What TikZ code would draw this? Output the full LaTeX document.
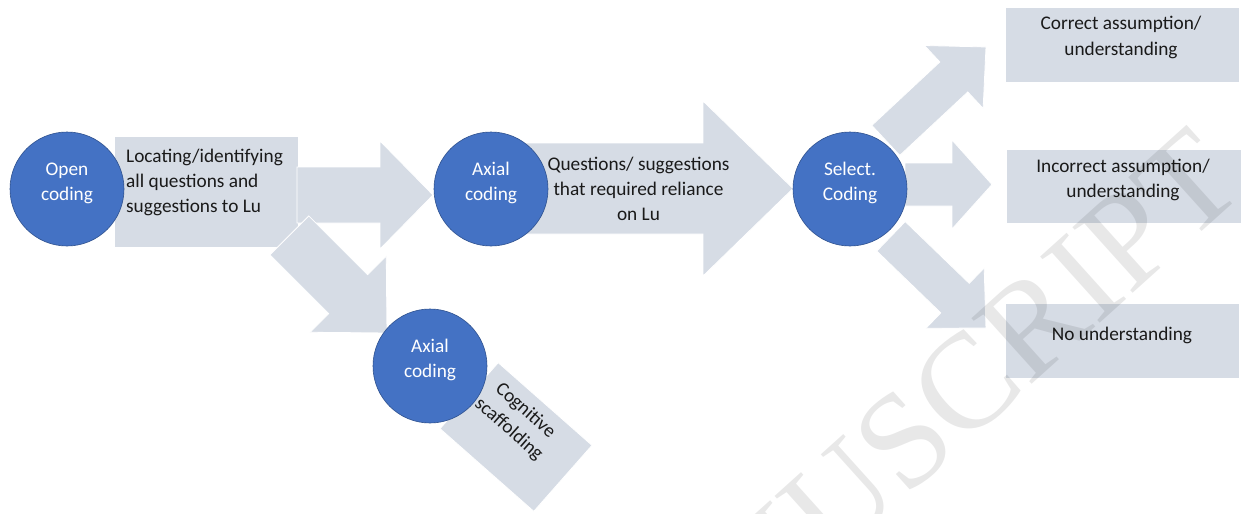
\documentclass[tikz,border=0pt]{standalone}
\usepackage{fontspec}
\setmainfont{Carlito}
\newfontfamily\wmfont{Liberation Serif}
\definecolor{boxfill}{HTML}{D6DCE5}
\definecolor{circfill}{HTML}{4472C4}
\definecolor{circline}{HTML}{2F528F}
\definecolor{txt}{HTML}{1A1A1A}
\newcommand\mytextfont{\fontsize{19.3}{25}\selectfont}
\tikzset{
  shapefill/.style={fill=boxfill, draw=white, line width=0.8pt},
  circ/.style={circle, fill=circfill, draw=circline, line width=0.6pt,
    minimum size=114pt, inner sep=0pt},
  circtext/.style={text=white, font=\mytextfont, align=center, inner sep=0pt, anchor=base},
  boxtext/.style={text=txt, font=\mytextfont, inner sep=0pt, anchor=base},
  rbox/.style={rectangle, shapefill, inner sep=0pt},
}
% tail, rotation, length, shaft half width, head half width, head length
\newcommand\blockarrow[6]{%
  \begin{scope}[shift={#1}, rotate=#2]
    \path[shapefill] (0,-#4) -- ({#3-#6},-#4) -- ({#3-#6},-#5) -- (#3,0)
      -- ({#3-#6},#5) -- ({#3-#6},#4) -- (0,#4) -- cycle;
  \end{scope}}
\begin{document}
\begin{tikzpicture}[x=1pt,y=-1pt]
\useasboundingbox (0,0) rectangle (1243,514);

% ---- left part ----
\node[rbox, minimum width=184pt, minimum height=111pt] (locbox) at (206,191.5) {};
\blockarrow{(297,195)}{0}{136}{28}{54}{53}
\blockarrow{(289.4,235.4)}{-45}{138}{27.5}{54}{55}
\node[boxtext, align=left, anchor=base west] (loctext) at (126,212)
  {Locating/identifying\\all questions and\\suggestions to Lu};

% rotated box
\node[rbox, rotate=-41.4, minimum width=125pt, minimum height=88pt] (cogbox) at (516,437) {};
\node[boxtext, align=center, rotate=-41.4, anchor=center] (cogtext) at (517,420)
  {Cognitive\\scaffolding};

% ---- middle ----
\blockarrow{(500,188.5)}{0}{293}{45.5}{87.5}{90}
\node[boxtext, align=center] (qtext) at (638.5,220)
  {Questions/ suggestions\\that required reliance\\on Lu};

% ---- right arrows ----
\blockarrow{(885.8,140.4)}{43}{137}{20.5}{43}{44}
\blockarrow{(905,184.5)}{0}{87}{21.5}{44.5}{40}
\blockarrow{(891,236.3)}{-44}{132}{20.5}{42}{43}

% right boxes
\node[rbox, minimum width=234pt, minimum height=75pt] (correct) at (1122,44.5) {};
\node[boxtext, align=center] at (1121,55) {Correct assumption/\\understanding};
\node[rbox, minimum width=235pt, minimum height=74pt] (incorrect) at (1123.5,186) {};
\node[boxtext, align=center] at (1123,197) {Incorrect assumption/\\understanding};
\node[rbox, minimum width=234pt, minimum height=75pt] (nounder) at (1122,340.5) {};
\node[boxtext, align=center] at (1122,340) {No understanding};

% ---- circles ----
\node[circ] (open) at (67,189) {};
\node[circtext] at ([yshift=-11.5pt]open.center) {Open\\coding};
\node[circ] (axmid) at (491,189) {};
\node[circtext] at ([yshift=-11.5pt]axmid.center) {Axial\\coding};
\node[circ] (select) at (850,189) {};
\node[circtext] at ([yshift=-11.5pt]select.center) {Select.\\Coding};
\node[circ] (axbot) at (430,366) {};
\node[circtext] at ([yshift=-11.5pt]axbot.center) {Axial\\coding};

% ---- watermark ----
\begin{scope}
  \clip (0,0) rectangle (1243,514);
  \node[rotate=42, anchor=base east, inner sep=0pt, text=black, text opacity=0.09,
    font=\wmfont\fontsize{136}{136}\selectfont] (wm) at (1248,190) {MANUSCRIPT};
\end{scope}
\end{tikzpicture}
\end{document}
